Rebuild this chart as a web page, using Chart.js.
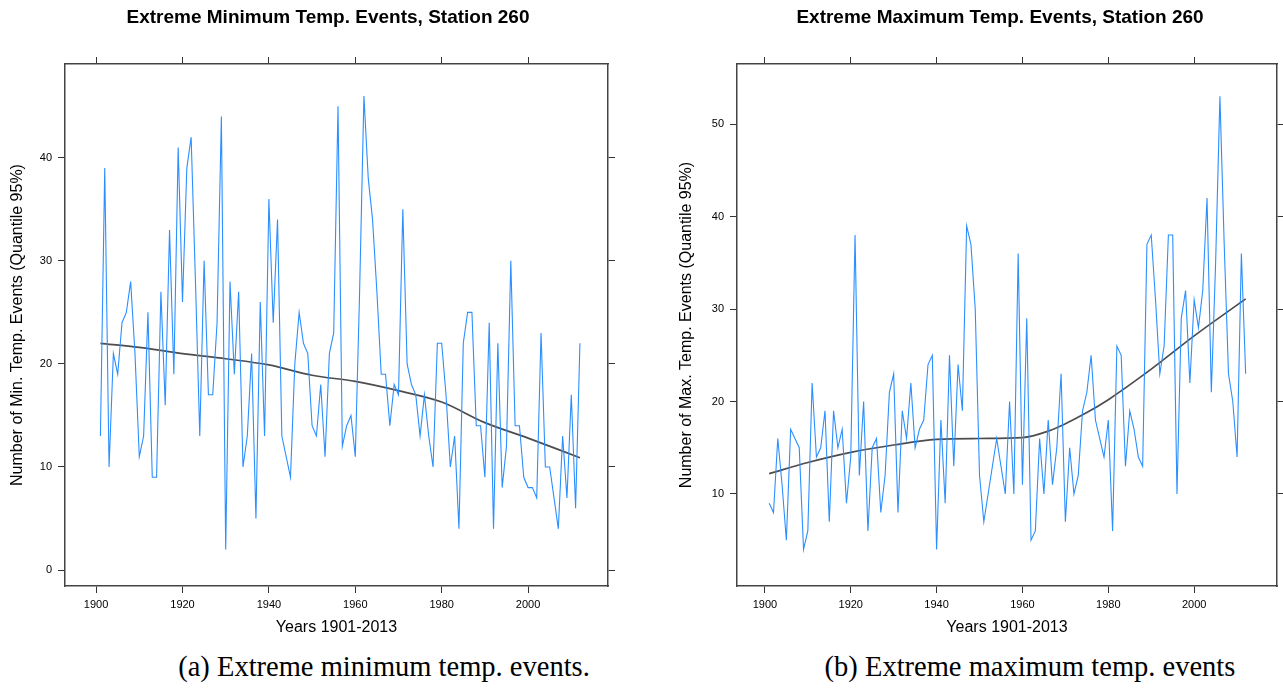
<!DOCTYPE html>
<html>
<head>
<meta charset="utf-8">
<script src="https://cdn.jsdelivr.net/npm/chart.js@4"></script>
<style>
  html, body { margin: 0; padding: 0; background: #fff; overflow: hidden; }
  body { width: 1283px; height: 689px; position: relative; }
  canvas { position: absolute; top: 0; }
  .caption {
    position: absolute; top: 651px; line-height: 32px;
    font-family: "Liberation Serif", "DejaVu Serif", serif; font-size: 28.5px;
    color: #000; white-space: nowrap; transform: translateX(-50%);
  }
</style>
</head>
<body>
<canvas id="cmin" width="656" height="640" style="left:0"></canvas>
<canvas id="cmax" width="720" height="640" style="left:640px"></canvas>
<div class="caption" style="left:384px">(a) Extreme minimum temp. events.</div>
<div class="caption" style="left:1030px">(b) Extreme maximum temp. events</div>
<script>
// years of the series (1901 .. 2012 as drawn)
const firstYear = 1901;

const minEvents = [
  13, 39, 10, 21, 19, 24, 25, 28, 21, 11,
  13, 25, 9, 9, 27, 16, 33, 19, 41, 26,
  39, 42, 28, 13, 30, 17, 17, 24, 44, 2,
  28, 19, 27, 10, 13, 21, 5, 26, 13, 36,
  24, 34, 13, 11, 9, 20, 25, 22, 21, 14,
  13, 18, 11, 21, 23, 45, 12, 14, 15, 11,
  27, 46, 38, 34, 27, 19, 19, 14, 18, 17,
  35, 20, 18, 17, 13, 17, 13, 10, 22, 22,
  17, 10, 13, 4, 22, 25, 25, 14, 14, 9,
  24, 4, 22, 8, 12, 30, 14, 14, 9, 8,
  8, 7, 23, 10, 10, 7, 4, 13, 7, 17,
  6, 22
];

const maxEvents = [
  9, 8, 16, 11, 5, 17, 16, 15, 4, 6,
  22, 14, 15, 19, 7, 19, 15, 17, 9, 14,
  38, 12, 20, 6, 15, 16, 8, 12, 21, 23,
  8, 19, 16, 22, 15, 17, 18, 24, 25, 4,
  18, 9, 25, 13, 24, 19, 39, 37, 30, 12,
  7, 10, 13, 16, 13, 10, 20, 10, 36, 11,
  29, 5, 6, 16, 10, 18, 11, 15, 23, 7,
  15, 10, 12, 19, 21, 25, 18, 16, 14, 18,
  6, 26, 25, 13, 19, 17, 14, 13, 37, 38,
  31, 23, 26, 38, 38, 10, 29, 32, 22, 31,
  28, 32, 42, 21, 35, 53, 37, 23, 20, 14,
  36, 23
];

// smoothed trend, read at a few years
const minTrendYears = [1901, 1910, 1920, 1930, 1940, 1950, 1960, 1970, 1980, 1990, 2000, 2012];
const minTrend = [22.0, 21.6, 21.0, 20.5, 19.9, 18.9, 18.3, 17.4, 16.3, 14.3, 12.8, 10.9];

const maxTrendYears = [1901, 1910, 1920, 1930, 1940, 1950, 1960, 1966, 1970, 1975, 1980, 1990, 2000, 2012];
const maxTrend = [12.2, 13.4, 14.5, 15.3, 15.9, 16.0, 16.1, 16.8, 17.6, 18.8, 20.2, 23.5, 27.1, 31.1];

const yearTicks = [1900, 1920, 1940, 1960, 1980, 2000];
const minTicks = [0, 10, 20, 30, 40];
const maxTicks = [10, 20, 30, 40, 50];

Chart.defaults.font.family = "'Liberation Sans', Arial, sans-serif";
Chart.defaults.color = "#000";

const toPoints = (values) => values.map((v, i) => ({ x: firstYear + i, y: v }));
const pairs = (xs, ys) => xs.map((x, i) => ({ x: x, y: ys[i] }));
const setTicks = (list) => (scale) => {
  scale.ticks = list.map((v) => ({ value: v }));
};

const boxAxis = (pos, min, max, tickList, size, extra) => {
  const horizontal = pos === "top" || pos === "bottom";
  return Object.assign(
    {
      type: "linear",
      position: pos,
      min: min,
      max: max,
      afterBuildTicks: setTicks(tickList),
      afterFit: (scale) => {
        if (horizontal) scale.height = size;
        else scale.width = size;
      },
      ticks: { display: false },
      grid: { drawOnChartArea: false, tickLength: 7, color: "#333", lineWidth: 1 },
      border: { display: true, color: "#444", width: 1.5 },
    },
    extra || {}
  );
};

const makePanel = (canvas, cfg) => {
  new Chart(canvas, {
    type: "line",
    data: {
      datasets: [
        {
          data: toPoints(cfg.values),
          borderColor: "#2b8fff",
          borderWidth: 1.1,
          pointRadius: 0,
          tension: 0,
        },
        {
          data: pairs(cfg.trendYears, cfg.trend),
          borderColor: "#4d4d4d",
          borderWidth: 1.7,
          pointRadius: 0,
          cubicInterpolationMode: "monotone",
        },
      ],
    },
    options: {
      responsive: false,
      animation: false,
      layout: { padding: 0 },
      plugins: {
        legend: { display: false },
        tooltip: { enabled: false },
        title: {
          display: true,
          text: cfg.title,
          color: "#000",
          font: { size: 19, weight: "bold", lineHeight: 1 },
          padding: { top: 8.5, bottom: 0 },
        },
      },
      scales: {
        x: boxAxis("bottom", cfg.xMin, cfg.xMax, yearTicks, 54, {
          ticks: { display: true, font: { size: 11 }, padding: 5, maxRotation: 0, callback: (v) => String(v) },
          title: {
            display: true,
            text: "Years 1901-2013",
            font: { size: 16 },
            padding: { top: 0, bottom: 2.4 },
          },
        }),
        xTop: boxAxis("top", cfg.xMin, cfg.xMax, yearTicks, 36.5),
        y: boxAxis("left", cfg.yMin, cfg.yMax, cfg.yTicks, cfg.leftWidth, {
          ticks: { display: true, font: { size: 11 }, padding: 6, callback: (v) => String(v) },
          title: {
            display: true,
            text: cfg.yTitle,
            font: { size: 16 },
            padding: { top: cfg.yTitlePad, bottom: 0 },
          },
        }),
        yRight: boxAxis("right", cfg.yMin, cfg.yMax, cfg.yTicks, cfg.rightWidth),
      },
    },
  });
};

makePanel(document.getElementById("cmin"), {
  title: "Extreme Minimum Temp. Events, Station 260",
  yTitle: "Number of Min. Temp. Events (Quantile 95%)",
  values: minEvents,
  trendYears: minTrendYears,
  trend: minTrend,
  xMin: 1892.8,
  xMax: 2018.5,
  yMin: -1.55,
  yMax: 49.1,
  yTicks: minTicks,
  leftWidth: 65,
  rightWidth: 48,
  yTitlePad: 8.4,
});

makePanel(document.getElementById("cmax"), {
  title: "Extreme Maximum Temp. Events, Station 260",
  yTitle: "Number of Max. Temp. Events (Quantile 95%)",
  values: maxEvents,
  trendYears: maxTrendYears,
  trend: maxTrend,
  xMin: 1893.5,
  xMax: 2019.3,
  yMin: 0.05,
  yMax: 56.5,
  yTicks: maxTicks,
  leftWidth: 97,
  rightWidth: 83,
  yTitlePad: 37.4,
});
</script>
</body>
</html>
